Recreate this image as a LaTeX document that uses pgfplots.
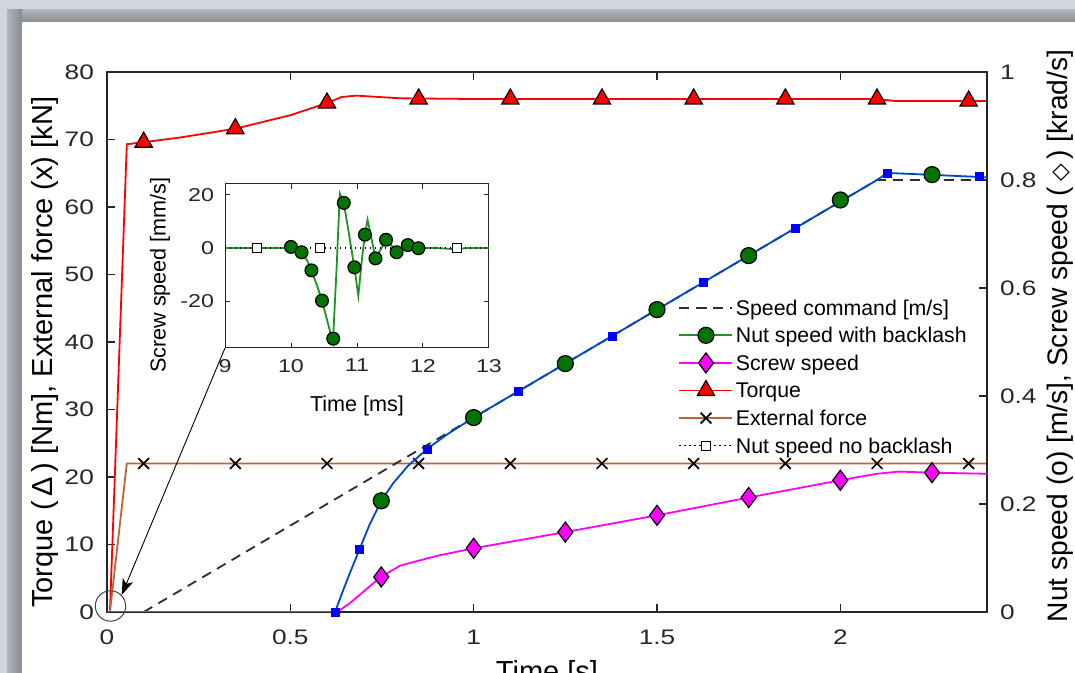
\documentclass[border=0pt]{standalone}
\usepackage{fontspec}
\setmainfont{Liberation Sans}
\newfontfamily\tickfont[FakeStretch=1.25]{Liberation Sans}
\newfontfamily\symfont{DejaVu Sans}
\usepackage{pgfplots}
\pgfplotsset{compat=1.18}
\usetikzlibrary{arrows.meta}

\definecolor{axc}{RGB}{38,38,38}
\definecolor{tred}{RGB}{255,0,0}
\definecolor{fbrown}{RGB}{188,100,58}
\definecolor{smag}{RGB}{255,0,255}
\definecolor{nblue}{RGB}{0,70,200}
\definecolor{sqblue}{RGB}{0,0,255}
\definecolor{ngreen}{RGB}{30,150,30}
\definecolor{cgreen}{RGB}{0,115,0}
\definecolor{cmdgray}{RGB}{45,45,45}
\definecolor{framelight}{RGB}{208,213,222}
\definecolor{framemid}{RGB}{176,181,188}
\definecolor{framedark}{RGB}{135,139,145}

\pgfplotsset{
  base/.style={
    scale only axis, width=440pt, height=270pt,
    at={(53.5pt,30.5pt)}, anchor=south west,
    xmin=0, xmax=2.4,
    tick align=inside, major tick length=4pt,
    axis line style={axc, line width=0.7pt},
    every tick/.style={axc, line width=0.7pt},
    /pgf/number format/assume math mode=true,
    ticklabel style={font=\tickfont\fontsize{10.5pt}{12pt}\selectfont, text=axc},
    label style={font=\fontsize{14.5pt}{17pt}\selectfont, text=black},
  },
}

\begin{document}
\begin{tikzpicture}
\useasboundingbox (0,0) rectangle (537.5pt,336.5pt);
\fill[framelight] (0,0) rectangle (537.5pt,336.5pt);
\shade[top color=framemid, bottom color=framedark] (3.5pt,325.5pt) rectangle (537.5pt,331.5pt);
\shade[left color=framemid, right color=framedark] (3.5pt,0pt) rectangle (11pt,331.5pt);
\fill[white] (11pt,0) rectangle (537.5pt,325.5pt);

% ---------- left axis ----------
\begin{axis}[base,
  ymin=0, ymax=80,
  xtick={0,0.5,1,1.5,2}, ytick={0,10,20,30,40,50,60,70,80},
  xtick pos=both, ytick pos=left,
  xticklabel style={yshift=-5.5pt},
  yticklabel style={xshift=-3pt},
  xlabel={Time [s]},
  xlabel style={at={(axis description cs:0.5,0)}, anchor=base, yshift=-35pt},
  ylabel={Torque (\,Δ\,) [Nm], External force (x) [kN]},
  ylabel style={at={(axis description cs:-0.0705,0.481)}, anchor=center},
]
% Torque
\addplot[tred, line width=0.9pt] coordinates {
 (0,0) (0.008,0) (0.054,69.3) (0.1,69.6) (0.2,70.3) (0.35,71.6) (0.5,73.6) (0.6,75.4)
 (0.64,76.3) (0.68,76.5) (0.8,76.1) (1.0,76.0) (2.1,76.0) (2.15,75.7) (2.4,75.7)};
\addplot[only marks, mark=triangle*, mark size=5pt,
  mark options={fill=tred, draw=black, line width=0.6pt}] coordinates {
 (0.1,69.6) (0.35,71.6) (0.6,75.4) (0.85,76.0) (1.1,76.0) (1.35,76.0)
 (1.6,76.0) (1.85,76.0) (2.1,76.0) (2.35,75.7)};
% External force
\addplot[fbrown, line width=0.9pt] coordinates {(0,0) (0.008,0) (0.054,22) (2.4,22)};
\addplot[only marks, mark=x, mark size=3.8pt, mark options={draw=black, line width=0.85pt}] coordinates {
 (0.1,22) (0.35,22) (0.6,22) (0.85,22) (1.1,22) (1.35,22) (1.6,22) (1.85,22) (2.1,22) (2.35,22)};
\end{axis}

% ---------- right axis ----------
\begin{axis}[base,
  ymin=0, ymax=1, hide x axis, axis y line*=right,
  ytick={0,0.2,0.4,0.6,0.8,1},
  yticklabel style={xshift=3pt},
  label style={font=\fontsize{14.1pt}{17pt}\selectfont},
  ylabel={Nut speed (o) [m/s], Screw speed (\,{\symfont\fontsize{11.5pt}{14pt}\selectfont ◇}\,) [krad/s]},
  ylabel style={at={(axis description cs:1.083,0.511)}, anchor=center},
  legend style={at={(axis description cs:0.6495,0.589)}, anchor=north west,
    draw=none, fill=none, inner sep=0pt, outer sep=0pt, row sep=0pt, column sep=0pt,
    font=\fontsize{10.65pt}{12pt}\selectfont,
    nodes={inner sep=1.25pt, text height=9.3pt, text depth=2pt}},
  legend cell align=left,
  legend image code/.code={\draw[mark repeat=2, mark phase=2] plot coordinates {(0pt,0pt) (13.25pt,0pt) (26.5pt,0pt)};},
]
\addlegendimage{cmdgray, line width=0.9pt, dash pattern=on 5pt off 3.5pt}
\addlegendentry{Speed command [m/s]}
\addlegendimage{ngreen, line width=0.9pt, mark=*, mark size=4pt, mark options={solid, fill=cgreen, draw=black, line width=0.6pt}}
\addlegendentry{Nut speed with backlash}
\addlegendimage{smag, line width=0.9pt, mark=diamond*, mark size=5pt, mark options={solid, fill=smag, draw=black, line width=0.6pt}}
\addlegendentry{Screw speed}
\addlegendimage{tred, line width=0.9pt, mark=triangle*, mark size=5pt, mark options={solid, fill=tred, draw=black, line width=0.6pt}}
\addlegendentry{Torque}
\addlegendimage{fbrown, line width=0.9pt, mark=x, mark size=3.8pt, mark options={solid, draw=black, line width=0.85pt}}
\addlegendentry{External force}
\addlegendimage{black, line width=0.7pt, dash pattern=on 0.7pt off 1.8pt, mark=square*, mark size=2.2pt, mark options={solid, fill=white, draw=black, line width=0.5pt}}
\addlegendentry{Nut speed no backlash}

% Speed command
\addplot[forget plot, cmdgray, line width=0.9pt, dash pattern=on 5pt off 3.5pt] coordinates {(0.1,0) (2.1,0.8) (2.4,0.8)};
% Screw speed
\addplot[forget plot, smag, line width=0.9pt] coordinates {
 (0,0) (0.627,0) (0.66,0.015) (0.7,0.038) (0.745,0.064) (0.8,0.086) (0.9,0.104) (1.0,0.118)
 (1.25,0.148) (1.5,0.179) (1.75,0.212) (2.0,0.244) (2.1,0.256) (2.16,0.26) (2.25,0.258) (2.4,0.256)};
\addplot[forget plot, only marks, mark=diamond*, mark size=5pt,
  mark options={fill=smag, draw=black, line width=0.6pt}] coordinates {
 (0.748,0.065) (1.0,0.118) (1.25,0.148) (1.5,0.179) (1.75,0.212) (2.0,0.244) (2.25,0.258)};
% Nut speed (blue)
\addplot[forget plot, nblue, line width=0.9pt] coordinates {
 (0.622,0) (0.64,0.033) (0.66,0.068) (0.688,0.115) (0.715,0.16) (0.748,0.206) (0.78,0.238)
 (0.82,0.27) (0.873,0.302) (0.93,0.33) (1.0,0.36) (1.1,0.40) (2.1,0.80) (2.128,0.813)
 (2.2,0.811) (2.3,0.808) (2.4,0.805)};
\addplot[forget plot, only marks, mark=square*, mark size=2pt, mark options={fill=sqblue, draw=sqblue}] coordinates {
 (0.622,0) (0.688,0.115) (0.873,0.302) (1.121,0.408) (1.378,0.511) (1.626,0.610)
 (1.877,0.711) (2.128,0.813) (2.379,0.806)};
\addplot[forget plot, only marks, mark=*, mark size=4pt, mark options={fill=cgreen, draw=black, line width=0.6pt}] coordinates {
 (0.748,0.206) (1.0,0.36) (1.25,0.46) (1.5,0.56) (1.75,0.66) (2.0,0.763) (2.25,0.81)};
\end{axis}

% ---------- inset ----------
\begin{axis}[scale only axis, width=132pt, height=82pt, at={(112.5pt,162.5pt)}, anchor=south west,
  xmin=9, xmax=13, ymin=-37.5, ymax=24,
  xtick={9,10,11,12,13}, ytick={-20,0,20},
  xtick pos=both, ytick pos=both, tick align=inside, major tick length=2.5pt,
  axis background/.style={fill=white},
  axis line style={axc, line width=0.5pt}, every tick/.style={axc, line width=0.5pt},
  /pgf/number format/assume math mode=true,
  ticklabel style={font=\tickfont\fontsize{9.3pt}{11pt}\selectfont, text=axc},
  xticklabel style={yshift=-2pt}, yticklabel style={xshift=-2pt},
  label style={font=\fontsize{10.8pt}{13pt}\selectfont, text=black},
  xlabel={Time [ms]}, xlabel style={at={(axis description cs:0.5,0)}, anchor=center, yshift=-29pt},
  ylabel={Screw speed [mm/s]}, ylabel style={at={(axis description cs:-0.246,0.445)}, anchor=center},
]
\addplot[ngreen, line width=0.9pt] coordinates {
 (9,0) (9.95,0) (10.0,0.3) (10.08,-0.4) (10.16,-1.6) (10.24,-4.5) (10.31,-8.4) (10.39,-13.8)
 (10.47,-19.75) (10.55,-27.3) (10.635,-35.5) (10.69,-8) (10.74,20.4) (10.80,16.9) (10.88,5)
 (10.96,-7.25) (11.02,-17.9) (11.08,-3) (11.12,5) (11.16,10.6) (11.2,6) (11.28,-3.9) (11.35,-1)
 (11.44,3.1) (11.52,1) (11.6,-1.6) (11.68,0) (11.77,1.1) (11.85,0.6) (11.93,-0.1) (12.2,0)
 (12.45,-0.4) (12.7,0) (13,0)};
\addplot[black, line width=0.7pt, dash pattern=on 0.7pt off 1.8pt] coordinates {(9,0) (13,0)};
\addplot[only marks, mark=square*, mark size=2.2pt, mark options={fill=white, draw=black, line width=0.5pt}] coordinates {
 (9.49,0) (10.44,0) (12.51,0)};
\addplot[only marks, mark=*, mark size=3.2pt, mark options={fill=cgreen, draw=black, line width=0.6pt}] coordinates {
 (10.0,0.4) (10.16,-1.6) (10.31,-8.4) (10.47,-19.75) (10.64,-34) (10.80,16.9) (10.96,-7.25)
 (11.12,5) (11.28,-3.9) (11.44,3.1) (11.6,-1.6) (11.77,1.1) (11.93,-0.1)};
\end{axis}

% annotations
\draw[black, line width=0.45pt, -{Stealth[length=8pt, width=5.5pt, inset=2pt]}] (112.5pt,162.5pt) -- (60.85pt,39pt);
\draw[black!75, line width=0.5pt] (55.25pt,33.5pt) circle (7.6pt);
\end{tikzpicture}
\end{document}
